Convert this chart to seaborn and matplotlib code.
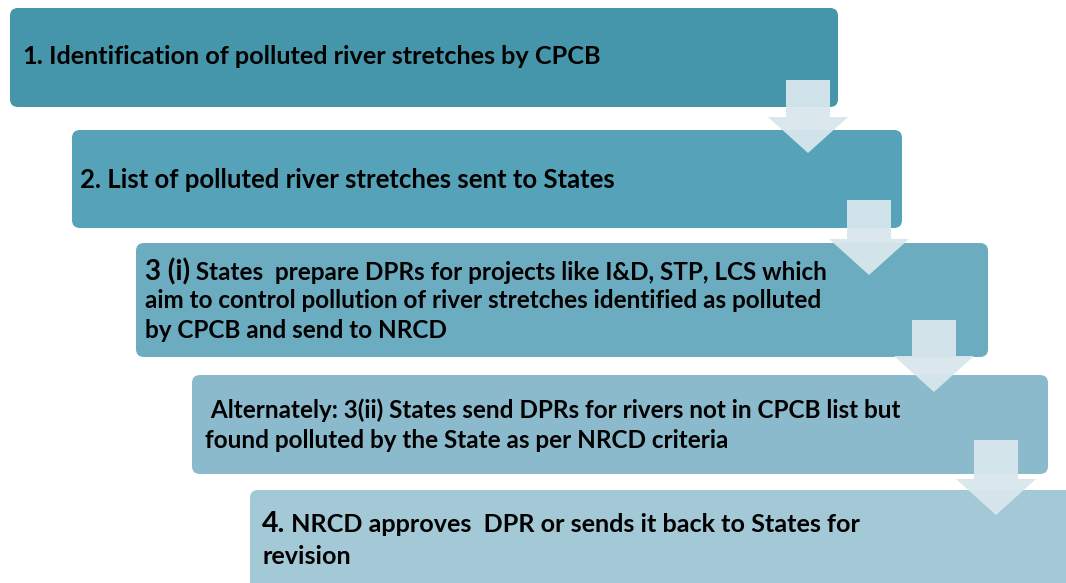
import matplotlib
matplotlib.use("Agg")
import matplotlib.pyplot as plt
from matplotlib.patches import FancyBboxPatch, Polygon
import seaborn as sns

sns.set_theme(style="white")
plt.rcParams['font.family'] = ['Lato', 'DejaVu Sans']

# textos de cada paso (prefijo grande + resto)
step_prefix = ["1.", "2.", "3 (i)", "", "4."]
step_text = [
    " Identification of polluted river stretches by CPCB",
    " List of polluted river stretches sent to States",
    " States  prepare DPRs for projects like I&D, STP, LCS which\naim to control pollution of river stretches identified as polluted\nby CPCB and send to NRCD",
    " Alternately: 3(ii) States send DPRs for rivers not in CPCB list but\nfound polluted by the State as per NRCD criteria",
    " NRCD approves  DPR or sends it back to States for\nrevision",
]
prefix_size = [18.2, 18.5, 20, 17.5, 20.5]
text_size = [18.2, 18.5, 17.5, 17.5, 18.1]
box_colors = ["#4596aa", "#55a2b9", "#6cacc0", "#8abacb", "#a3c8d6"]

# caja: x0, y0, x1, y1 (pixeles)
boxes = [(10, 8, 838, 107), (72, 130, 902, 228), (136, 243, 988, 357),
         (192, 375, 1048, 474), (250, 490, 1080, 600)]
text_pos = [(22, 57), (80, 180), (145, 301), (205, 425), (262, 540)]
line_h = [29, 29, 29, 30, 32]
arrows_x = [808, 869, 934, 996]
arrows_y = [(80, 153), (200, 275), (320, 392), (440, 515)]

fig = plt.figure(figsize=(10.66, 5.83), dpi=100)
ax = fig.add_axes([0, 0, 1, 1])
ax.set_xlim(0, 1066)
ax.set_ylim(583, 0)
ax.axis("off")

for (x0, y0, x1, y1), c in zip(boxes, box_colors):
    ax.add_patch(FancyBboxPatch((x0, y0), x1 - x0, y1 - y0,
                                boxstyle="round,pad=0,rounding_size=8",
                                fc=c, ec="none", zorder=1))

for cx, (ya, yb) in zip(arrows_x, arrows_y):
    head = yb - 36
    pts = [(cx - 22, ya), (cx + 22, ya), (cx + 22, head), (cx + 40, head),
           (cx, yb), (cx - 40, head), (cx - 22, head)]
    ax.add_patch(Polygon(pts, closed=True, fc="#d8e7ed", ec="none",
                         alpha=0.95, zorder=3))

fig.canvas.draw()
renderer = fig.canvas.get_renderer()
for pre, txt, ps, fs, (tx, ty), lh in zip(step_prefix, step_text, prefix_size,
                                           text_size, text_pos, line_h):
    lines = txt.split("\n")
    n = len(lines)
    top = ty - (n - 1) * lh / 2
    x_start = tx
    if pre:
        t = ax.text(tx, top, pre, fontsize=ps, fontweight="bold",
                    va="center", ha="left", color="black", zorder=5)
        bb = t.get_window_extent(renderer)
        x_start = ax.transData.inverted().transform((bb.x1, 0))[0]
    for i, line in enumerate(lines):
        lx = x_start if i == 0 else tx
        if i > 0:
            line = line.lstrip()
        ax.text(lx, top + i * lh, line, fontsize=fs, fontweight="bold",
                va="center", ha="left", color="black", zorder=5)

fig.savefig("out.png", dpi=100)
